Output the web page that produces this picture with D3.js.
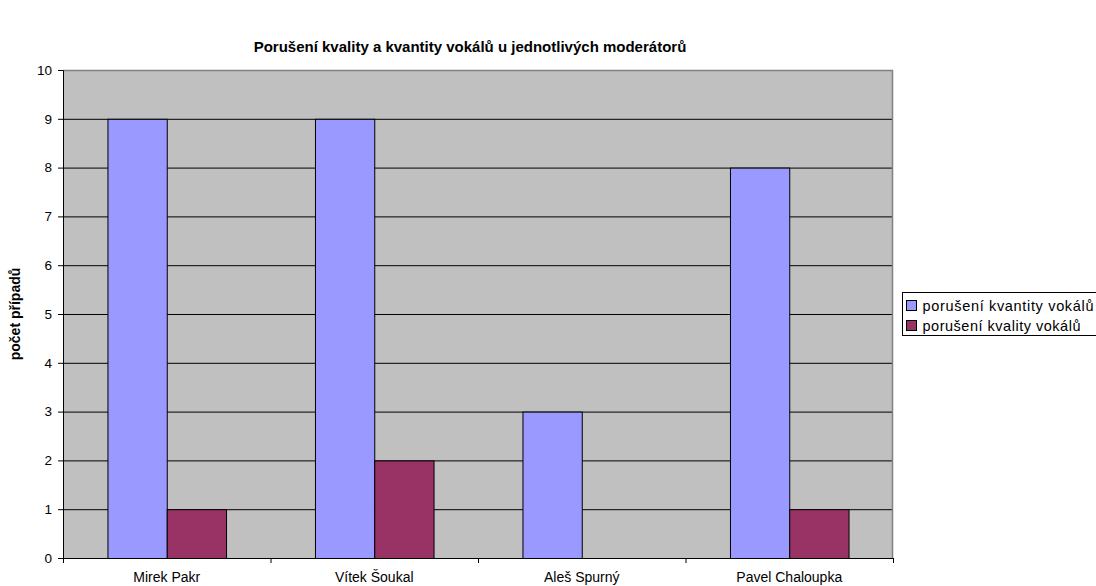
<!DOCTYPE html>
<html>
<head>
<meta charset="utf-8">
<script src="https://cdn.jsdelivr.net/npm/d3@7"></script>
<style>
  body { margin: 0; background: #fff; }
  text { font-family: Arial, "Liberation Sans", sans-serif; }
</style>
</head>
<body>
<div id="chart"></div>
<script>
// chart values
const moderators = ["Mirek Pakr", "Vítek Šoukal", "Aleš Spurný", "Pavel Chaloupka"];
const seriesNames = ["porušení kvantity vokálů", "porušení kvality vokálů"];
const quantityValues = [9, 9, 3, 8];
const qualityValues = [1, 2, 0, 1];
const yTicks = [0, 1, 2, 3, 4, 5, 6, 7, 8, 9, 10];
const colors = ["#9999FF", "#993366"];

const W = 1096, H = 586;
const margin = { top: 70, left: 63, right: 203, bottom: 28 };
const width = W - margin.left - margin.right,
  height = H - margin.top - margin.bottom;

let rows = moderators.map(function (m, i) {
  return { name: m, values: [quantityValues[i], qualityValues[i]] };
});

let svg = d3.select("#chart").append("svg")
  .attr("width", W).attr("height", H);

let g = svg.append("g").attr("transform", "translate(" + margin.left + "," + margin.top + ")");

let x = d3.scaleBand().domain(moderators).range([0, width]).paddingInner(0).paddingOuter(0);
// Excel gap width 150%: bars take 2/(2+1.5) of each category
let barW = x.bandwidth() / 3.5;
let y = d3.scaleLinear().domain([0, 10]).range([height, 0]);

// plot background
g.append("rect").attr("width", width).attr("height", height).attr("fill", "#C0C0C0");

// gridlines
g.append("g").selectAll("line").data(yTicks.slice(1)).enter().append("line")
  .attr("x1", 0).attr("x2", width)
  .attr("y1", function (d) { return y(d) + 0.5; })
  .attr("y2", function (d) { return y(d) + 0.5; })
  .attr("stroke", "#000").attr("stroke-width", 1);

// border top/right
g.append("path")
  .attr("d", "M0.5,0.5H" + (width - 0.5) + "V" + height)
  .attr("fill", "none").attr("stroke", "#808080").attr("stroke-width", 1.5);

// bars, grouped by moderator
let groups = g.selectAll(".cat").data(rows).enter().append("g")
  .attr("class", "cat")
  .attr("transform", function (d) { return "translate(" + (x(d.name) + barW * 0.75) + ",0)"; });

groups.each(function (d) {
  let grp = d3.select(this);
  d.values.forEach(function (v, i) {
    if (v <= 0) return;
    grp.append("rect")
      .attr("x", i * barW + 0.5)
      .attr("y", y(v) + 0.5)
      .attr("width", barW)
      .attr("height", y(0) - y(v))
      .attr("fill", colors[i])
      .attr("stroke", "#000").attr("stroke-width", 1);
  });
});

// y axis
let yAxis = g.append("g").call(d3.axisLeft(y).tickValues(yTicks).tickSize(5).tickPadding(6));
yAxis.select(".domain").attr("stroke", "#000");
yAxis.selectAll("text").style("font-size", "13.5px").attr("fill", "#000");

// x axis
let xAxis = g.append("g").attr("transform", "translate(0," + height + ")")
  .call(d3.axisBottom(x).tickSize(0).tickPadding(14));
xAxis.select(".domain").attr("stroke", "#000");
xAxis.selectAll("text").style("font-size", "14px").attr("fill", "#000");
xAxis.selectAll(".boundary").data(d3.range(moderators.length + 1)).enter().append("line")
  .attr("x1", function (i) { return i * x.bandwidth() + 0.5; })
  .attr("x2", function (i) { return i * x.bandwidth() + 0.5; })
  .attr("y1", 0).attr("y2", 5).attr("stroke", "#000");

// title
svg.append("text")
  .attr("x", 470).attr("y", 52)
  .attr("text-anchor", "middle")
  .style("font-size", "15px").style("font-weight", "bold")
  .text("Porušení kvality a kvantity vokálů u jednotlivých moderátorů");

// y label
svg.append("text")
  .attr("transform", "translate(20," + (margin.top + height / 2) + ") rotate(-90)")
  .attr("text-anchor", "middle")
  .style("font-size", "14px").style("font-weight", "bold")
  .text("počet případů");

// legend
let lg = svg.append("g").attr("transform", "translate(902.5,292.5)");
lg.append("rect").attr("width", 200).attr("height", 43)
  .attr("fill", "#fff").attr("stroke", "#000");
let legendLen = [171, 158];
seriesNames.forEach(function (s, i) {
  lg.append("rect").attr("x", 4).attr("y", 8 + i * 20).attr("width", 10).attr("height", 10)
    .attr("fill", colors[i]).attr("stroke", "#000");
  lg.append("text").attr("x", 20).attr("y", 18 + i * 20)
    .attr("textLength", legendLen[i]).attr("lengthAdjust", "spacing")
    .style("font-size", "14.5px").text(s);
});
</script>
</body>
</html>
